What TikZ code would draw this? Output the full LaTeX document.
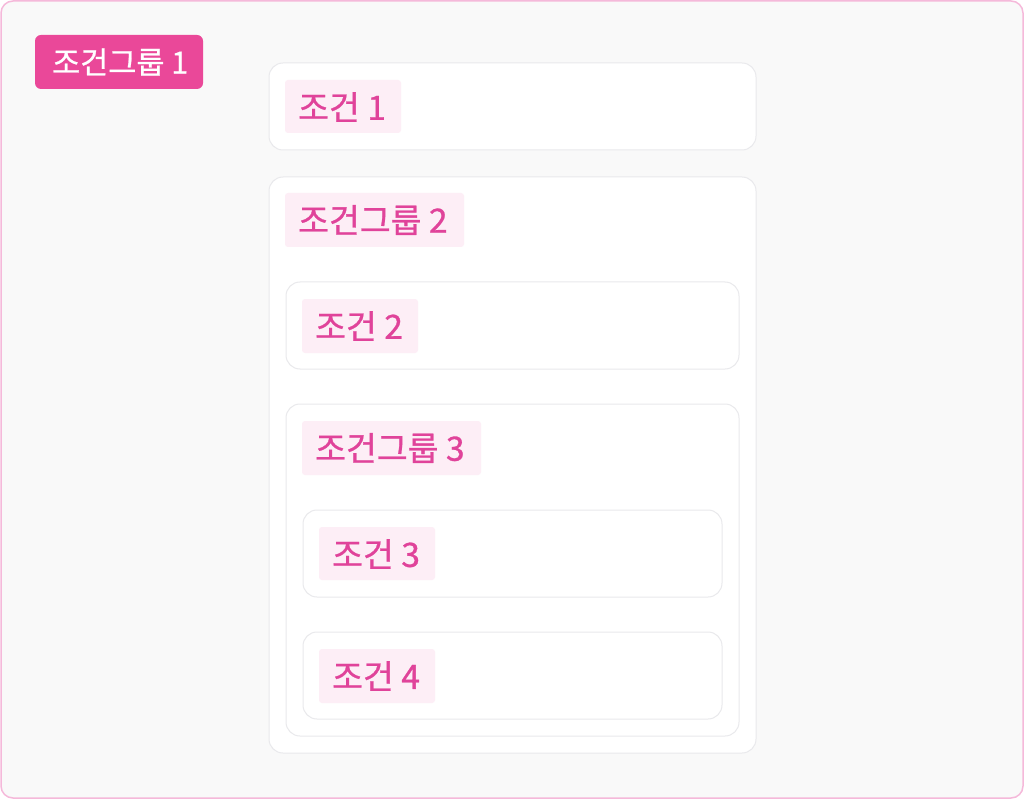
\documentclass[tikz,border=0pt]{standalone}
\usepackage{fontspec}
\setmainfont{Noto Sans CJK KR}[FakeBold=0.8]
\definecolor{framepink}{HTML}{F5B9DA}
\definecolor{bgray}{HTML}{F9F9F9}
\definecolor{boxline}{HTML}{E9E9EC}
\definecolor{hotpink}{HTML}{EA4899}
\definecolor{tagfill}{HTML}{FDEEF6}
\definecolor{tagtext}{HTML}{E0439A}
\tikzset{
  frame/.style={draw=framepink,line width=1.5pt,fill=bgray,rounded corners=12pt},
  cbox/.style={draw=boxline,line width=1pt,fill=white,rounded corners=14pt},
  tagbox/.style={fill=tagfill,rounded corners=3pt},
  tagtxt/.style={anchor=west,text=tagtext,font=\fontsize{33.5}{36}\selectfont,inner sep=0pt},
  headbox/.style={fill=hotpink,rounded corners=6pt},
  headtxt/.style={anchor=west,text=white,font=\fontsize{30.5}{33}\selectfont,inner sep=0pt}
}
\begin{document}
\begin{tikzpicture}[x=1pt,y=-1pt]
\useasboundingbox (0,0) rectangle (1024,799);
\draw[frame] (1,1) rectangle (1023,798);
% header
\fill[headbox] (35,35) rectangle (203,89);
\node[headtxt] (h1) at (52,62) {조건그룹 1};
% boxes
\draw[cbox] (269,63) rectangle (756,150);
\draw[cbox] (269,177) rectangle (756,753);
\draw[cbox] (286,282) rectangle (739,369);
\draw[cbox] (286,404) rectangle (739,736);
\draw[cbox] (303,510) rectangle (722,597);
\draw[cbox] (303,632) rectangle (722,719);
% tags
\fill[tagbox] (285,80) rectangle (401,133);
\node[tagtxt] (c1) at (298,107) {조건 1};
\fill[tagbox] (285,193) rectangle (464,247);
\node[tagtxt] (g2) at (298,220) {조건그룹 2};
\fill[tagbox] (302,299) rectangle (418,353);
\node[tagtxt] (c2) at (315,326) {조건 2};
\fill[tagbox] (302,421) rectangle (481,475);
\node[tagtxt] (g3) at (315,448) {조건그룹 3};
\fill[tagbox] (319,527) rectangle (435,580);
\node[tagtxt] (c3) at (332,554) {조건 3};
\fill[tagbox] (319,649) rectangle (435,703);
\node[tagtxt] (c4) at (332,676) {조건 4};
\end{tikzpicture}
\end{document}
